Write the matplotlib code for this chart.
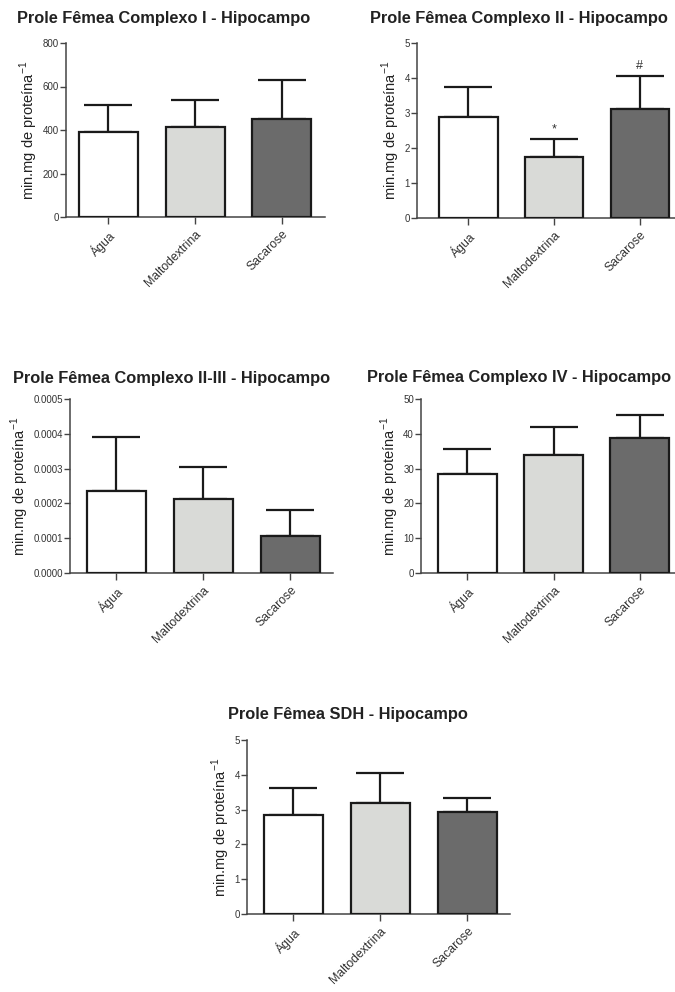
import numpy as np
import matplotlib
matplotlib.use("Agg")
import matplotlib.pyplot as plt
from matplotlib.ticker import FormatStrFormatter

plt.rcParams["font.family"] = ["Liberation Sans", "DejaVu Sans"]
plt.rcParams["mathtext.fontset"] = "custom"
plt.rcParams["mathtext.rm"] = "Liberation Sans"

groups = ["Água", "Maltodextrina", "Sacarose"]
bar_colors = ["#ffffff", "#d9dad7", "#6b6b6b"]
ylabel = "min.mg de proteína$^{-1}$"

# mean and upper error (SD) per panel
c1_mean = [390, 415, 450]
c1_err = [125, 125, 180]
c2_mean = [2.88, 1.75, 3.12]
c2_err = [0.87, 0.50, 0.93]
c2_marks = ["", "*", "#"]
c23_mean = [0.000235, 0.000213, 0.000105]
c23_err = [0.000155, 0.000092, 0.000075]
c4_mean = [28.5, 34.0, 38.8]
c4_err = [7.0, 8.0, 6.5]
sdh_mean = [2.85, 3.18, 2.93]
sdh_err = [0.77, 0.87, 0.40]

titles = [
    "Prole Fêmea Complexo I - Hipocampo",
    "Prole Fêmea Complexo II - Hipocampo",
    "Prole Fêmea Complexo II-III - Hipocampo",
    "Prole Fêmea Complexo IV - Hipocampo",
    "Prole Fêmea SDH - Hipocampo",
]

W, H = 675, 992
fig = plt.figure(figsize=(W / 100, H / 100), dpi=100)


def px_axes(x0, x1, ytop, ybot):
    return fig.add_axes([x0 / W, 1 - ybot / H, (x1 - x0) / W, (ybot - ytop) / H])


def panel(ax, means, errs, ymax, step, xlim, fmt=None, marks=None):
    x = np.arange(len(groups))
    ax.bar(x, means, width=0.68, color=bar_colors, edgecolor="#1a1a1a",
           linewidth=1.6, zorder=3)
    ax.errorbar(x, means, yerr=[np.zeros(len(errs)), errs], fmt="none",
                ecolor="#1a1a1a", elinewidth=1.6, capsize=17, capthick=1.6,
                zorder=2)
    if marks:
        for xi, m, e, s in zip(x, means, errs, marks):
            if s:
                ax.annotate(s, (xi, m + e), xytext=(0, 3),
                            textcoords="offset points", ha="center",
                            va="bottom", fontsize=9, color="#333333")
    ax.set_xlim(*xlim)
    ax.set_ylim(0, ymax)
    ax.set_yticks(np.arange(0, ymax + step / 2, step))
    if fmt:
        ax.yaxis.set_major_formatter(FormatStrFormatter(fmt))
    ax.set_xticks(x)
    ax.set_xticklabels(groups, rotation=45, ha="right", va="top",
                       rotation_mode="anchor", fontsize=8.8, color="#333333")
    ax.tick_params(axis="y", labelsize=7, labelcolor="#333333",
                   length=4, width=1, color="#444444", pad=1)
    ax.tick_params(axis="x", length=5, width=1, color="#444444", pad=3)
    for s in ["top", "right"]:
        ax.spines[s].set_visible(False)
    for s in ["left", "bottom"]:
        ax.spines[s].set_linewidth(1.1)
        ax.spines[s].set_color("#444444")
    ax.set_ylabel(ylabel, fontsize=10.5, color="#222222", labelpad=2)
    ax.set_facecolor("none")


ax1 = px_axes(66, 325, 43, 217)
panel(ax1, c1_mean, c1_err, 800, 200, (-0.49, 2.5))
ax2 = px_axes(417, 675, 43, 218)
panel(ax2, c2_mean, c2_err, 5, 1, (-0.6, 2.41), marks=c2_marks)
ax3 = px_axes(70, 333, 399, 573)
panel(ax3, c23_mean, c23_err, 0.0005, 0.0001, (-0.53, 2.49), fmt="%.4f")
ax4 = px_axes(421, 675, 399, 573)
panel(ax4, c4_mean, c4_err, 50, 10, (-0.54, 2.41))
ax5 = px_axes(247, 510, 740, 914)
panel(ax5, sdh_mean, sdh_err, 5, 1, (-0.53, 2.49))

title_pos = [(164, 19), (519, 19), (172, 378), (519, 377), (348, 715)]
for t, (tx, ty) in zip(titles, title_pos):
    fig.text(tx / W, 1 - ty / H, t, ha="center", va="center", fontsize=11.8,
             fontweight="bold", color="#222222")

fig.savefig("out.png", dpi=100, facecolor="white")
